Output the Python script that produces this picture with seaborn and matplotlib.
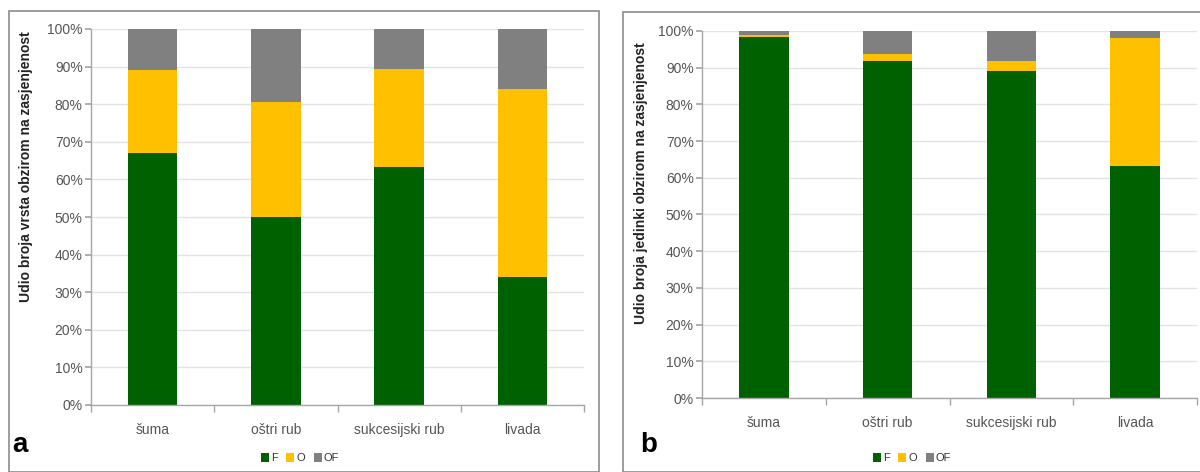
import matplotlib
matplotlib.use("Agg")
import matplotlib.pyplot as plt
import seaborn as sns
import pandas as pd
import numpy as np
from matplotlib.patches import Rectangle, Patch
from matplotlib.ticker import PercentFormatter

categories = ["šuma", "oštri rub", "sukcesijski rub", "livada"]
series_names = ["F", "O", "OF"]

# Panel a: share of species number (%)
a_F = [67.0, 50.0, 63.3, 34.0]
a_O = [22.0, 30.5, 26.0, 50.0]
a_OF = [11.0, 19.5, 10.7, 16.0]

# Panel b: share of individuals (%)
b_F = [98.5, 91.7, 89.0, 63.2]
b_O = [0.3, 2.0, 2.7, 34.8]
b_OF = [1.2, 6.3, 8.3, 2.0]

colors = {"F": "#006100", "O": "#FFC000", "OF": "#808080"}
ylabels = ["Udio broja vrsta obzirom na zasjenjenost",
           "Udio broja jedinki obzirom na zasjenjenost"]
panel_letters = ["a", "b"]

sns.set_theme(style="white")
plt.rcParams["font.family"] = ["Liberation Sans", "DejaVu Sans"]

fig = plt.figure(figsize=(12, 4.72), dpi=100)

# panel frames
fig.patches.append(Rectangle((9/1200, 0), 590/1200, 1 - 11/472, transform=fig.transFigure,
                             fill=False, edgecolor="#8c8c8c", linewidth=1.2))
fig.patches.append(Rectangle((623/1200, 0), 580/1200, 1 - 12/472, transform=fig.transFigure,
                             fill=False, edgecolor="#8c8c8c", linewidth=1.2))

axes_pos = [[91/1200, 1 - 405/472, (584 - 91)/1200, (405 - 29)/472],
            [702/1200, 1 - 398/472, (1197 - 702)/1200, (398 - 31)/472]]
label_coords = [(-0.118, 0.633), (-0.11, 0.586)]
data_sets = [(a_F, a_O, a_OF), (b_F, b_O, b_OF)]
letter_x = [12/1200, 640/1200]
legend_x = [300/1200, 912/1200]

for i, (F, O, OF) in enumerate(data_sets):
    ax = fig.add_axes(axes_pos[i])
    F = np.array(F); O = np.array(O); OF = np.array(OF)
    tot = F + O + OF
    df = pd.DataFrame({"cat": categories,
                       "top": tot, "mid": F + O, "low": F})
    sns.barplot(data=df, x="cat", y="top", color=colors["OF"], width=0.4,
                saturation=1, ax=ax, edgecolor="none")
    sns.barplot(data=df, x="cat", y="mid", color=colors["O"], width=0.4,
                saturation=1, ax=ax, edgecolor="none")
    sns.barplot(data=df, x="cat", y="low", color=colors["F"], width=0.4,
                saturation=1, ax=ax, edgecolor="none")
    ax.set_ylim(0, 100)
    ax.set_xlim(-0.5, 3.5)
    ax.set_yticks(np.arange(0, 101, 10))
    ax.yaxis.set_major_formatter(PercentFormatter(decimals=0))
    ax.grid(axis="y", color="#e3e3e3", linewidth=1)
    ax.set_axisbelow(True)
    for s in ["top", "right"]:
        ax.spines[s].set_visible(False)
    for s in ["left", "bottom"]:
        ax.spines[s].set_color("#a6a6a6")
        ax.spines[s].set_linewidth(1)
    ax.set_xlabel("")
    ax.set_ylabel(ylabels[i], fontsize=10, fontweight="bold", color="#222222")
    ax.yaxis.set_label_coords(*label_coords[i])
    ax.tick_params(axis="y", left=True, length=4, color="#a6a6a6", labelsize=10,
                   labelcolor="#555555", pad=2)
    ax.set_xticks([0, 1, 2, 3])
    ax.set_xticklabels(categories)
    ax.tick_params(axis="x", bottom=False, labelsize=10, labelcolor="#555555", pad=7)
    ax.set_xticks([-0.5, 0.5, 1.5, 2.5, 3.5], minor=True)
    ax.tick_params(axis="x", which="minor", bottom=True, length=5, color="#a6a6a6")
    fig.text(letter_x[i], 1 - 445/472, panel_letters[i], fontsize=20, fontweight="bold",
             va="center", ha="left", color="black")
    handles = [Patch(facecolor=colors[n], edgecolor="none", label=n) for n in series_names]
    fig.legend(handles=handles, loc="center", bbox_to_anchor=(legend_x[i], 1 - 458/472),
               ncol=3, frameon=False, fontsize=8, handlelength=0.7, handleheight=0.9,
               handletextpad=0.2, columnspacing=0.8, labelcolor="#333333")

fig.savefig("out.png", dpi=100)
